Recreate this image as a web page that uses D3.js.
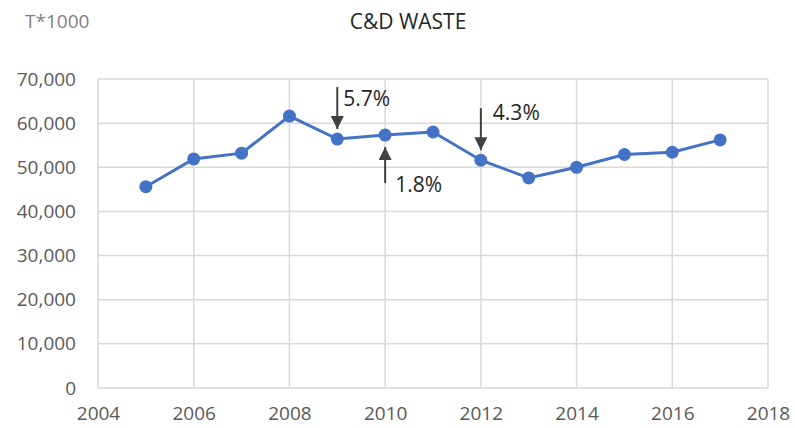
<!DOCTYPE html>
<meta charset="utf-8">
<script src="https://d3js.org/d3.v7.min.js"></script>
<style>
  body { margin: 0; background: #fff; }
  text { font-family: "Open Sans", sans-serif; }
</style>
<div id="chart"></div>
<script>

// data (tonnes * 1000)
var years = [2005, 2006, 2007, 2008, 2009, 2010, 2011, 2012, 2013, 2014, 2015, 2016, 2017];
var waste = [45600, 51900, 53200, 61600, 56400, 57300, 58000, 51600, 47600, 50000, 52900, 53400, 56200];
var xTicks = [2004, 2006, 2008, 2010, 2012, 2014, 2016, 2018];
var yTicks = [0, 10000, 20000, 30000, 40000, 50000, 60000, 70000];

// annotations: year of the point, label, arrow direction
var noteYears = [2009, 2010, 2012];
var noteLabels = ["5.7%", "1.8%", "4.3%"];
var noteDirs = ["down", "up", "down"];

var W = 795, H = 428;
var margin = {top: 79, right: 27, bottom: 40, left: 98};
var width = W - margin.left - margin.right,
    height = H - margin.top - margin.bottom;

var svg = d3.select("#chart").append("svg")
    .attr("width", W)
    .attr("height", H);

var defs = svg.append("defs");
defs.append("marker")
    .attr("id", "head")
    .attr("viewBox", "0 0 10 10")
    .attr("refX", 10).attr("refY", 5)
    .attr("markerUnits", "userSpaceOnUse")
    .attr("markerWidth", 14).attr("markerHeight", 13)
    .attr("orient", "auto")
  .append("path")
    .attr("d", "M0,0 L10,5 L0,10 Z")
    .attr("fill", "#404040");

var g = svg.append("g")
    .attr("transform", "translate(" + margin.left + "," + margin.top + ")");

var x = d3.scaleLinear().domain([2004, 2018]).range([0, width]);
var y = d3.scaleLinear().domain([0, 70000]).range([height, 0]);

// gridlines
g.append("g").selectAll("line.h")
  .data(yTicks).enter().append("line")
    .attr("x1", 0).attr("x2", width)
    .attr("y1", function(d) { return y(d); })
    .attr("y2", function(d) { return y(d); })
    .attr("stroke", "#d9d9d9").attr("stroke-width", 1.5);
g.append("g").selectAll("line.v")
  .data(xTicks).enter().append("line")
    .attr("y1", 0).attr("y2", height)
    .attr("x1", function(d) { return x(d); })
    .attr("x2", function(d) { return x(d); })
    .attr("stroke", "#d9d9d9").attr("stroke-width", 1.5);

// axes (labels only)
var yAxis = g.append("g")
    .call(d3.axisLeft(y).tickValues(yTicks).tickSize(0).tickPadding(22)
      .tickFormat(d3.format(",")));
var xAxis = g.append("g")
    .attr("transform", "translate(0," + height + ")")
    .call(d3.axisBottom(x).tickValues(xTicks).tickSize(0).tickPadding(19)
      .tickFormat(d3.format("d")));
[yAxis, xAxis].forEach(function(a) {
  a.select(".domain").remove();
  a.selectAll("text")
    .attr("fill", "#595959")
    .style("font-size", "19px")
    .style("font-family", "'Open Sans', sans-serif");
});

// line + markers
var data = years.map(function(d, i) { return {year: d, value: waste[i]}; });
g.append("path")
    .datum(data)
    .attr("fill", "none")
    .attr("stroke", "#4472C4")
    .attr("stroke-width", 3)
    .attr("d", d3.line()
      .x(function(d) { return x(d.year); })
      .y(function(d) { return y(d.value); }));
g.selectAll("circle")
  .data(data).enter().append("circle")
    .attr("cx", function(d) { return x(d.year); })
    .attr("cy", function(d) { return y(d.value); })
    .attr("r", 6.5)
    .attr("fill", "#4472C4");

// arrows with percentages
noteYears.forEach(function(yr, i) {
  var v = waste[years.indexOf(yr)];
  var px = x(yr), py = y(v);
  var ax = g.append("line")
      .attr("x1", px).attr("x2", px)
      .attr("stroke", "#404040").attr("stroke-width", 2)
      .attr("marker-end", "url(#head)");
  var t = g.append("text")
      .attr("fill", "#262626")
      .style("font-size", "21px")
      .text(noteLabels[i]);
  if (noteDirs[i] === "down") {
    var tip = py - 10;
    ax.attr("y1", tip - 42).attr("y2", tip);
    t.attr("x", px + (i === 0 ? 6 : 12)).attr("y", tip - (i === 0 ? 23 : 30));
  } else {
    var tip2 = py + 12;
    ax.attr("y1", tip2 + 36).attr("y2", tip2);
    t.attr("x", px + 10).attr("y", tip2 + 45);
  }
});

// titles
svg.append("text")
    .attr("x", 408).attr("y", 29)
    .attr("text-anchor", "middle")
    .attr("fill", "#262626")
    .style("font-size", "21px")
    .text("C&D WASTE");
svg.append("text")
    .attr("x", 25).attr("y", 28)
    .attr("fill", "#7f7f7f")
    .style("font-size", "19px")
    .text("T*1000");

</script>
